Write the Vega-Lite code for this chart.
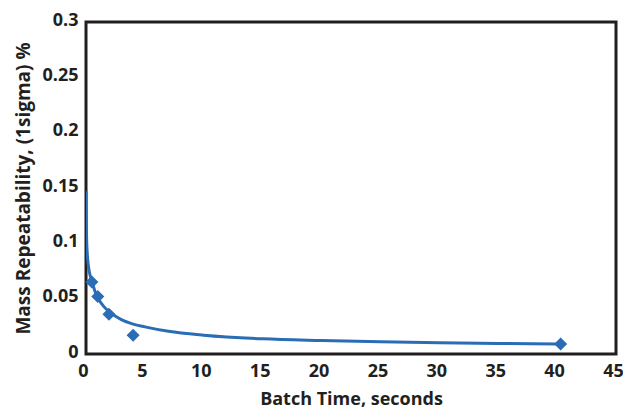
{
  "$schema": "https://vega.github.io/schema/vega-lite/v6.json",
  "autosize": "none",
  "padding": {"left": 86, "top": 22, "right": 7, "bottom": 56},
  "width": 530,
  "height": 332,
  "background": "white",
  "config": {
    "view": {"stroke": "#231f20", "strokeWidth": 3},
    "font": "Open Sans",
    "axis": {
      "grid": false,
      "ticks": false,
      "domain": false,
      "labelFont": "Open Sans",
      "labelFontWeight": "bold",
      "labelFontSize": 18,
      "labelColor": "#231f20",
      "titleFont": "Open Sans",
      "titleFontWeight": "bold",
      "titleColor": "#231f20"
    }
  },
  "datasets": {
    "curve": [
      {"t": 0.005, "r": 0.147},
      {"t": 0.02, "r": 0.125},
      {"t": 0.05, "r": 0.105},
      {"t": 0.1, "r": 0.092},
      {"t": 0.2, "r": 0.08},
      {"t": 0.35, "r": 0.071},
      {"t": 0.5, "r": 0.066},
      {"t": 0.75, "r": 0.057},
      {"t": 1, "r": 0.051},
      {"t": 1.5, "r": 0.043},
      {"t": 2, "r": 0.038},
      {"t": 3, "r": 0.031},
      {"t": 4, "r": 0.027},
      {"t": 5, "r": 0.0245},
      {"t": 7, "r": 0.0205},
      {"t": 10, "r": 0.017},
      {"t": 15, "r": 0.0137},
      {"t": 20, "r": 0.0122},
      {"t": 25, "r": 0.0111},
      {"t": 30, "r": 0.0102},
      {"t": 35, "r": 0.0096},
      {"t": 40, "r": 0.0091}
    ],
    "points": [
      {"t": 0.5, "r": 0.065},
      {"t": 1.0, "r": 0.052},
      {"t": 1.95, "r": 0.036},
      {"t": 4.0, "r": 0.017},
      {"t": 40.3, "r": 0.009}
    ]
  },
  "layer": [
    {
      "data": {"name": "curve"},
      "mark": {"type": "line", "color": "#2a6db5", "strokeWidth": 3, "interpolate": "monotone", "clip": true},
      "encoding": {
        "x": {"field": "t", "type": "quantitative", "scale": {"domain": [0, 45], "nice": false}, "axis": {"values": [0,5,10,15,20,25,30,35,40,45], "title": "Batch Time, seconds", "titleFontSize": 18, "labelPadding": 8, "labelOffset": -3, "titlePadding": 10, "labelFlush": false}},
        "y": {"field": "r", "type": "quantitative", "scale": {"domain": [0, 0.3], "nice": false}, "axis": {"values": [0, 0.05, 0.1, 0.15, 0.2, 0.25, 0.3], "title": "Mass Repeatability, (1sigma) %", "titleFontSize": 19, "labelPadding": 8, "labelOffset": -2, "titlePadding": 8, "labelFlush": false, "labelExpr": "datum.value === 0 ? '0' : format(datum.value, '.2~f')"}}
      }
    },
    {
      "data": {"name": "points"},
      "mark": {"type": "point", "shape": "diamond", "filled": true, "color": "#2a6db5", "size": 170, "opacity": 1},
      "encoding": {
        "x": {"field": "t", "type": "quantitative"},
        "y": {"field": "r", "type": "quantitative"}
      }
    }
  ]
}
